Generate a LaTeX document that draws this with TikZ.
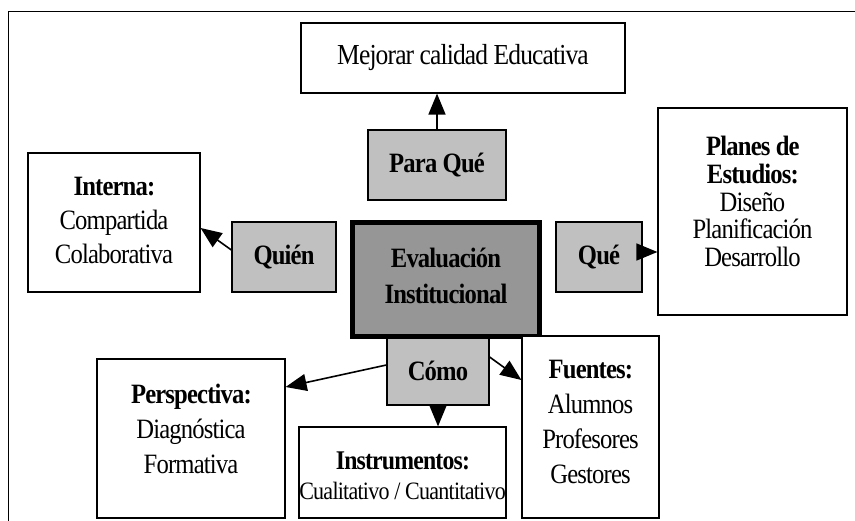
\documentclass[tikz,border=0pt]{standalone}
\usepackage{fontspec}
\setmainfont[FakeStretch=0.88, LetterSpace=-3]{Liberation Serif}
\usetikzlibrary{arrows.meta,calc}
\definecolor{lgray}{HTML}{C0C0C0}
\definecolor{dgray}{HTML}{969696}
\begin{document}
\begin{tikzpicture}[x=1pt,y=-1pt,
  box/.style={draw, line width=1.2pt, inner sep=0pt, fill=white},
  gbox/.style={box, fill=lgray},
  txt/.style={inner sep=0pt, align=center, font=\fontsize{28}{35}\selectfont},
  btxt/.style={txt, font=\fontsize{28}{35}\selectfont\bfseries},
  arr/.style={line width=1.6pt, -{Triangle[length=21pt,width=17pt]}}]
\useasboundingbox (0,0) rectangle (855,521);
\coordinate (fa) at (8,521);
\coordinate (fb) at (8,12);
\coordinate (fc) at (855,12);
\draw[line width=1pt] (fa) -- (fb) -- (fc);

% boxes
\node[box, minimum width=324pt, minimum height=70pt] (mejorar) at (463,58) {};
\node[gbox, minimum width=138pt, minimum height=70pt] (paraque) at (437,165) {};
\node[box, minimum width=172pt, minimum height=139pt] (interna) at (114,222.5) {};
\node[gbox, minimum width=104pt, minimum height=70pt] (quien) at (284,257) {};
\node[gbox, minimum width=102pt, minimum height=68pt] (como) at (438,371) {};
\node[draw, line width=5pt, fill=dgray, inner sep=0pt, minimum width=187pt, minimum height=114pt] (eval) at (446,279.5) {};
\node[gbox, minimum width=86pt, minimum height=70pt] (que) at (599,257) {};
\node[box, minimum width=189pt, minimum height=207pt] (planes) at (752.5,211.5) {};
\node[box, minimum width=188pt, minimum height=159pt] (persp) at (191,438.5) {};
\node[box, minimum width=207pt, minimum height=91pt] (instr) at (402.5,472.5) {};
\node[box, minimum width=137pt, minimum height=182pt] (fuentes) at (590.5,427) {};

% texts
\node[txt, font=\fontsize{29}{35}\selectfont] (mejorar-t) at (mejorar.center) {Mejorar calidad Educativa};
\node[btxt] (paraque-t) at (paraque.center) {Para Qué};
\node[btxt] (quien-t) at (quien.center) {Quién};
\node[btxt] (como-t) at (como.center) {Cómo};
\node[btxt] (que-t) at (que.center) {Qué};
\node[btxt, font=\fontsize{28}{36}\selectfont\bfseries] (eval-t) at ([yshift=4pt]eval.center) {Evaluación\\Institucional};
\node[txt, font=\fontsize{28}{34}\selectfont] (interna-t) at ([yshift=2pt]interna.center) {\textbf{Interna:}\\Compartida\\Colaborativa};
\node[txt, font=\fontsize{28}{27.7}\selectfont] (planes-t) at ([yshift=10pt]planes.center)
  {\textbf{Planes de}\\\textbf{Estudios:}\\Diseño\\Planificación\\Desarrollo};
\node[txt] (persp-t) at ([yshift=10pt]persp.center) {\textbf{Perspectiva:}\\Diagnóstica\\Formativa};
\node[txt, font=\fontsize{27}{30}\selectfont] (instr-t) at ([yshift=-3pt]instr.center)
  {\textbf{Instrumentos:}\\{\fontsize{25}{30}\selectfont Cualitativo / Cuantitativo}};
\node[txt, font=\fontsize{28}{35}\selectfont] (fuentes-t) at ([yshift=5pt]fuentes.center)
  {\textbf{Fuentes:}\\Alumnos\\Profesores\\Gestores};

% connectors
\draw[arr] (paraque.north) -- (paraque.north |- mejorar.south);
\draw[arr] ([yshift=7pt]quien.west) -- ([yshift=-5.5pt]interna.east);
\coordinate (qa) at ([yshift=5pt]que.east);
\draw[arr] (qa) -- (qa -| planes.west);
\draw[arr] ([yshift=6pt]como.west) -- ([yshift=51.5pt]persp.east);
\draw[arr] ([yshift=14pt]como.east) -- ([yshift=47pt]fuentes.west);
\draw[arr] (como.south) -- (como.south |- instr.north);
\end{tikzpicture}
\end{document}
